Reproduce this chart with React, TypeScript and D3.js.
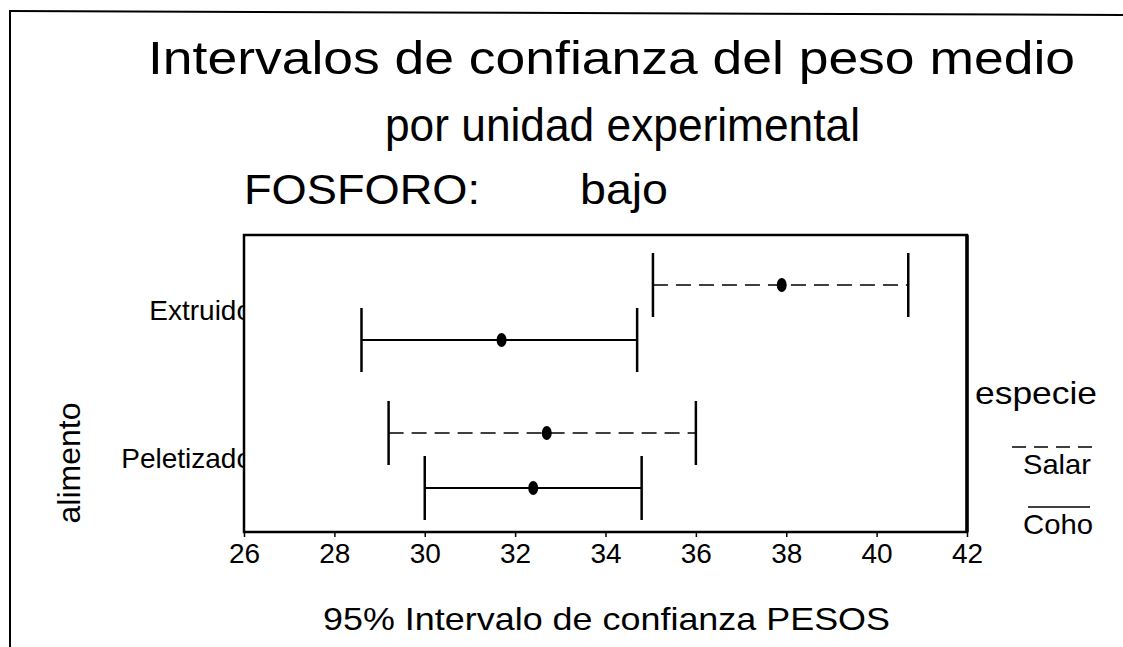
import { useRef, useEffect } from 'react';
import * as d3 from 'd3';

// Data
const alimentos = ['Extruido', 'Peletizado'];
const especies = ['Salar', 'Coho'];
const lowerBounds = [
  [35.05, 28.6], // Extruido: Salar, Coho
  [29.2, 30.0],  // Peletizado: Salar, Coho
];
const means = [
  [37.9, 31.7],
  [32.7, 32.4],
];
const upperBounds = [
  [40.7, 34.7],
  [36.0, 34.8],
];
const xTicks = [26, 28, 30, 32, 34, 36, 38, 40, 42];

const FONT = '"Liberation Sans", Arial, Helvetica, sans-serif';

export default function App() {
  const svgRef = useRef<SVGSVGElement>(null);

  useEffect(() => {
    if (!svgRef.current) return;
    const svg = d3.select(svgRef.current);
    svg.selectAll('*').remove();

    const width = 1123;
    const height = 647;
    const plot = { left: 244, right: 967, top: 235, bottom: 532 };

    const x = d3.scaleLinear().domain([26, 42]).range([plot.left, plot.right]);
    const y = d3.scalePoint<string>().domain(alimentos).range([238, 534]).padding(0.5);
    const ySub = d3.scalePoint<string>().domain(especies).range([-27, 28]);

    const rows = alimentos.flatMap((a, i) =>
      especies.map((e, j) => ({
        alimento: a,
        especie: e,
        lo: lowerBounds[i][j],
        mean: means[i][j],
        hi: upperBounds[i][j],
      }))
    );

    // page border from the scan
    svg.append('line')
      .attr('x1', 10).attr('y1', 11).attr('x2', width).attr('y2', 15)
      .attr('stroke', '#000').attr('stroke-width', 2);
    svg.append('line')
      .attr('x1', 10).attr('y1', 10).attr('x2', 10).attr('y2', height)
      .attr('stroke', '#000').attr('stroke-width', 2);

    // Titles
    const titles = [
      { text: 'Intervalos de confianza del peso medio', x: 148, y: 74, size: 46, len: 927 },
      { text: 'por unidad experimental', x: 385, y: 141, size: 46, len: 475 },
      { text: 'FOSFORO:', x: 244, y: 204, size: 42, len: 236 },
      { text: 'bajo', x: 580, y: 204, size: 42, len: 88 },
    ];
    svg.append('g')
      .selectAll('text')
      .data(titles)
      .enter()
      .append('text')
      .attr('x', d => d.x)
      .attr('y', d => d.y)
      .attr('font-family', FONT)
      .attr('font-size', d => d.size)
      .attr('textLength', d => d.len)
      .attr('lengthAdjust', 'spacingAndGlyphs')
      .attr('fill', '#000')
      .text(d => d.text);

    // Category labels, clipped by the frame like the original
    svg.append('defs')
      .append('clipPath')
      .attr('id', 'labelClip')
      .append('rect')
      .attr('x', 0).attr('y', 0).attr('width', plot.left).attr('height', height);

    svg.append('g')
      .attr('clip-path', 'url(#labelClip)')
      .selectAll('text')
      .data(alimentos)
      .enter()
      .append('text')
      .attr('x', 252)
      .attr('y', d => (y(d) || 0) + 8)
      .attr('text-anchor', 'end')
      .attr('font-family', FONT)
      .attr('font-size', 28)
      .attr('fill', '#000')
      .text(d => d);

    // Y axis title
    svg.append('text')
      .attr('transform', 'translate(80,463) rotate(-90)')
      .attr('text-anchor', 'middle')
      .attr('font-family', FONT)
      .attr('font-size', 32)
      .attr('fill', '#000')
      .text('alimento');

    // X axis
    const xAxis = svg.append('g')
      .attr('transform', `translate(0,${plot.bottom})`)
      .call(d3.axisBottom(x).tickValues(xTicks).tickSize(5).tickPadding(6).tickFormat(d3.format('d')));
    xAxis.select('.domain').remove();
    xAxis.selectAll('.tick line').attr('stroke', '#000').attr('stroke-width', 1.5);
    xAxis.selectAll('.tick text')
      .attr('font-family', FONT)
      .attr('font-size', 28)
      .attr('fill', '#000');

    svg.append('text')
      .attr('x', 323)
      .attr('y', 630)
      .attr('font-family', FONT)
      .attr('font-size', 32)
      .attr('textLength', 567)
      .attr('lengthAdjust', 'spacingAndGlyphs')
      .attr('fill', '#000')
      .text('95% Intervalo de confianza PESOS');

    // Plot frame
    svg.append('rect')
      .attr('x', plot.left).attr('y', plot.top)
      .attr('width', plot.right - plot.left).attr('height', plot.bottom - plot.top)
      .attr('fill', 'none').attr('stroke', '#000').attr('stroke-width', 2.5);
    svg.append('line')
      .attr('x1', plot.right).attr('y1', plot.top).attr('x2', plot.right).attr('y2', plot.bottom)
      .attr('stroke', '#000').attr('stroke-width', 3.5);

    // Intervals
    const rowY = (d: { alimento: string; especie: string }) =>
      (y(d.alimento) || 0) + (ySub(d.especie) || 0);
    const dash = (e: string) => (e === 'Salar' ? '15 8' : null);

    const g = svg.append('g');
    g.selectAll('.ci')
      .data(rows)
      .enter()
      .append('line')
      .attr('class', 'ci')
      .attr('x1', d => x(d.lo))
      .attr('x2', d => x(d.hi))
      .attr('y1', d => rowY(d))
      .attr('y2', d => rowY(d))
      .attr('stroke', '#000')
      .attr('stroke-width', d => (d.especie === 'Salar' ? 1.6 : 2.2))
      .attr('stroke-dasharray', d => dash(d.especie));

    const caps = rows.flatMap(d => [
      { ...d, v: d.lo },
      { ...d, v: d.hi },
    ]);
    g.selectAll('.cap')
      .data(caps)
      .enter()
      .append('line')
      .attr('class', 'cap')
      .attr('x1', d => x(d.v))
      .attr('x2', d => x(d.v))
      .attr('y1', d => rowY(d) - 32)
      .attr('y2', d => rowY(d) + 32)
      .attr('stroke', '#000')
      .attr('stroke-width', 2.5);

    g.selectAll('.dot')
      .data(rows)
      .enter()
      .append('ellipse')
      .attr('class', 'dot')
      .attr('cx', d => x(d.mean))
      .attr('cy', d => rowY(d))
      .attr('rx', 5)
      .attr('ry', 7)
      .attr('fill', '#000');

    // Legend
    svg.append('text')
      .attr('x', 975).attr('y', 404)
      .attr('font-family', FONT).attr('font-size', 32)
      .attr('textLength', 122).attr('lengthAdjust', 'spacingAndGlyphs')
      .attr('fill', '#000')
      .text('especie');

    const legend = [
      { especie: especies[0], x1: 1012, x2: 1098, ly: 447, tx: 1023, ty: 474, tl: 68 },
      { especie: especies[1], x1: 1028, x2: 1090, ly: 507, tx: 1023, ty: 534, tl: 70 },
    ];
    const lg = svg.append('g');
    lg.selectAll('line')
      .data(legend)
      .enter()
      .append('line')
      .attr('x1', d => d.x1).attr('x2', d => d.x2)
      .attr('y1', d => d.ly).attr('y2', d => d.ly)
      .attr('stroke', '#000').attr('stroke-width', 1.5)
      .attr('stroke-dasharray', d => (d.especie === 'Salar' ? '14 8' : null));
    lg.selectAll('text')
      .data(legend)
      .enter()
      .append('text')
      .attr('x', d => d.tx).attr('y', d => d.ty)
      .attr('font-family', FONT).attr('font-size', 28)
      .attr('textLength', d => d.tl).attr('lengthAdjust', 'spacingAndGlyphs')
      .attr('fill', '#000')
      .text(d => d.especie);
  }, []);

  return (
    <svg
      ref={svgRef}
      width={1123}
      height={647}
      style={{ position: 'absolute', left: 0, top: 0, background: '#fff' }}
    />
  );
}
